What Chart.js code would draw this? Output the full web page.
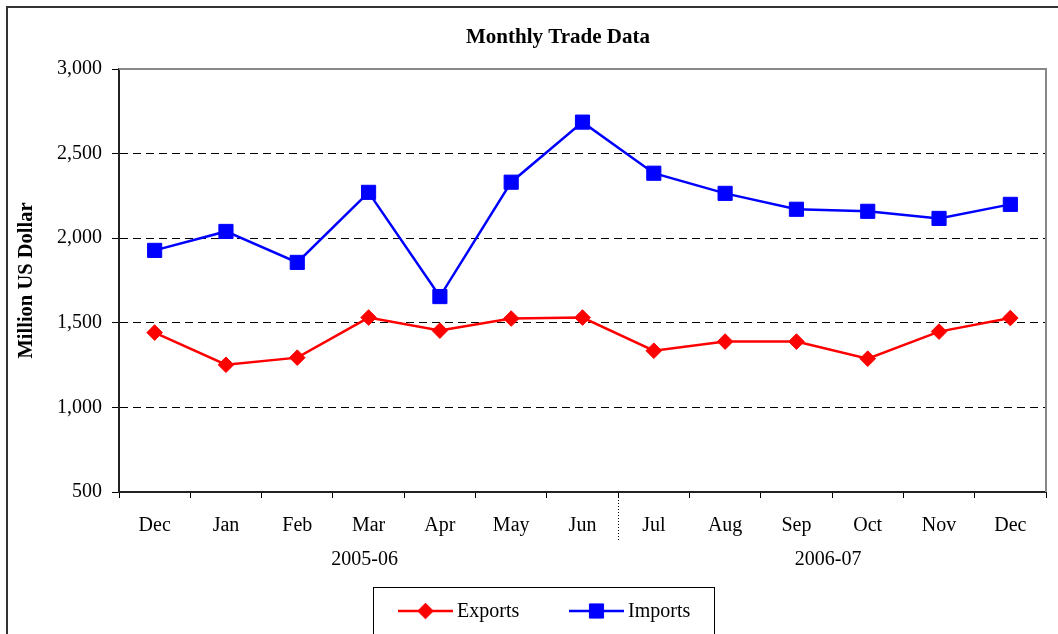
<!DOCTYPE html>
<html>
<head>
<meta charset="utf-8">
<script src="https://cdn.jsdelivr.net/npm/chart.js@4"></script>
<style>
  html, body { margin: 0; padding: 0; background: #fff; }
  #wrap { position: relative; width: 1058px; height: 634px; overflow: hidden; }
</style>
</head>
<body>
<div id="wrap"><canvas id="trade" width="1058" height="634"></canvas></div>
<script>
// data
let chartTitle = 'Monthly Trade Data';
let months = ['Dec', 'Jan', 'Feb', 'Mar', 'Apr', 'May', 'Jun', 'Jul', 'Aug', 'Sep', 'Oct', 'Nov', 'Dec'];
let exportsData = [1442, 1252, 1294, 1531, 1454, 1525, 1531, 1335, 1389, 1389, 1288, 1448, 1528];
let importsData = [1928, 2040, 1857, 2271, 1655, 2331, 2686, 2384, 2265, 2171, 2159, 2117, 2200];
let yearGroups = [
	{ label: '2005-06', from: 0, to: 6 },
	{ label: '2006-07', from: 7, to: 12 }
];

let serif = "'Liberation Serif', 'Times New Roman', serif";
Chart.defaults.font.family = serif;
Chart.defaults.font.size = 20;
Chart.defaults.color = '#000';

// frame, title, plot border, year labels, separator and boxed legend
let extras = {
	id: 'extras',
	beforeDraw(chart) {
		let c = chart.ctx;
		c.save();
		c.fillStyle = '#fff';
		c.fillRect(0, 0, chart.width, chart.height);
		c.strokeStyle = '#333';
		c.lineWidth = 2;
		c.beginPath();
		c.moveTo(7, chart.height + 5);
		c.lineTo(7, 7);
		c.lineTo(chart.width + 5, 7);
		c.stroke();

		c.font = 'bold 21px ' + serif;
		c.fillStyle = '#000';
		c.textAlign = 'center';
		c.textBaseline = 'middle';
		c.fillText(chartTitle, 558, 38);
		c.restore();
	},
	beforeDatasetsDraw(chart) {
		let c = chart.ctx;
		let a = chart.chartArea;
		c.save();
		c.strokeStyle = '#888';
		c.lineWidth = 2;
		c.beginPath();
		c.moveTo(a.left, a.top);
		c.lineTo(a.right, a.top);
		c.lineTo(a.right, a.bottom);
		c.stroke();
		c.restore();
	},
	afterDraw(chart) {
		let c = chart.ctx;
		let x = chart.scales.x;
		let a = chart.chartArea;
		c.save();
		// dotted split between the two years
		let sx = Math.round((x.getPixelForValue(6) + x.getPixelForValue(7)) / 2) + 0.5;
		c.strokeStyle = '#000';
		c.lineWidth = 1;
		c.setLineDash([1, 2]);
		c.beginPath();
		c.moveTo(sx, a.bottom + 2);
		c.lineTo(sx, a.bottom + 50);
		c.stroke();
		c.setLineDash([]);

		c.font = '20px ' + serif;
		c.fillStyle = '#000';
		c.textAlign = 'center';
		c.textBaseline = 'middle';
		yearGroups.forEach(g => {
			let mx = (x.getPixelForValue(g.from) + x.getPixelForValue(g.to)) / 2;
			c.fillText(g.label, mx - 4, 560);
		});

		// legend box
		c.strokeStyle = '#000';
		c.strokeRect(373.5, 587.5, 341, 70);
		let ly = 611;
		let entries = [
			{ ds: chart.data.datasets[0], x0: 398 },
			{ ds: chart.data.datasets[1], x0: 569 }
		];
		entries.forEach(e => {
			c.strokeStyle = e.ds.borderColor;
			c.lineWidth = e.ds.borderWidth;
			c.beginPath();
			c.moveTo(e.x0, ly);
			c.lineTo(e.x0 + 55, ly);
			c.stroke();
			c.fillStyle = e.ds.pointBackgroundColor;
			c.lineWidth = 1;
			Chart.helpers.drawPoint(c, {
				pointStyle: e.ds.pointStyle,
				radius: e.ds.pointRadius,
				borderWidth: 1,
				rotation: 0
			}, e.x0 + 27.5, ly);
			c.fillStyle = '#000';
			c.textAlign = 'left';
			c.fillText(e.ds.label, e.x0 + 59, ly + 1);
		});
		c.restore();
	}
};

let ctx = document.getElementById('trade');
let tradeChart = new Chart(ctx, {
	type: 'line',
	data: {
		labels: months,
		datasets: [
			{
				label: 'Exports',
				data: exportsData,
				borderColor: '#ff0000',
				backgroundColor: '#ff0000',
				pointBackgroundColor: '#ff0000',
				pointBorderColor: '#ff0000',
				borderWidth: 2.5,
				pointStyle: 'rectRot',
				pointRadius: 7.8,
				pointBorderWidth: 1,
				tension: 0
			},
			{
				label: 'Imports',
				data: importsData,
				borderColor: '#0000ff',
				backgroundColor: '#0000ff',
				pointBackgroundColor: '#0000ff',
				pointBorderColor: '#0000ff',
				borderWidth: 2.5,
				pointStyle: 'rect',
				pointRadius: 10,
				pointBorderWidth: 1,
				tension: 0
			}
		]
	},
	options: {
		responsive: false,
		animation: false,
		layout: { padding: { left: 0, right: 12, top: 69, bottom: 0 } },
		plugins: {
			legend: { display: false },
			tooltip: { enabled: false },
			title: { display: false }
		},
		scales: {
			x: {
				offset: true,
				grid: {
					offset: true,
					drawOnChartArea: false,
					drawTicks: true,
					tickLength: 6,
					tickColor: '#000',
					tickWidth: 1
				},
				border: { display: true, color: '#222', width: 2 },
				ticks: { padding: 16, maxRotation: 0, autoSkip: false, font: { size: 20 } },
				afterFit(scale) { scale.height = 142; }
			},
			y: {
				min: 500,
				max: 3000,
				ticks: {
					stepSize: 500,
					padding: 10,
					font: { size: 20 },
					callback: v => v.toLocaleString('en-US')
				},
				grid: {
					color: c => (c.tick && (c.tick.value === 500 || c.tick.value === 3000)) ? 'rgba(0,0,0,0)' : '#000',
					lineWidth: 1,
					tickColor: '#000',
					tickLength: 7,
					tickBorderDash: []
				},
				border: { display: true, color: '#222', width: 2, dash: [8, 5] },
				title: {
					display: true,
					text: 'Million US Dollar',
					font: { size: 20.5, weight: 'bold' },
					padding: { top: 14, bottom: 0 }
				},
				afterFit(scale) { scale.width = 119; }
			}
		}
	},
	plugins: [extras]
});
</script>
</body>
</html>
